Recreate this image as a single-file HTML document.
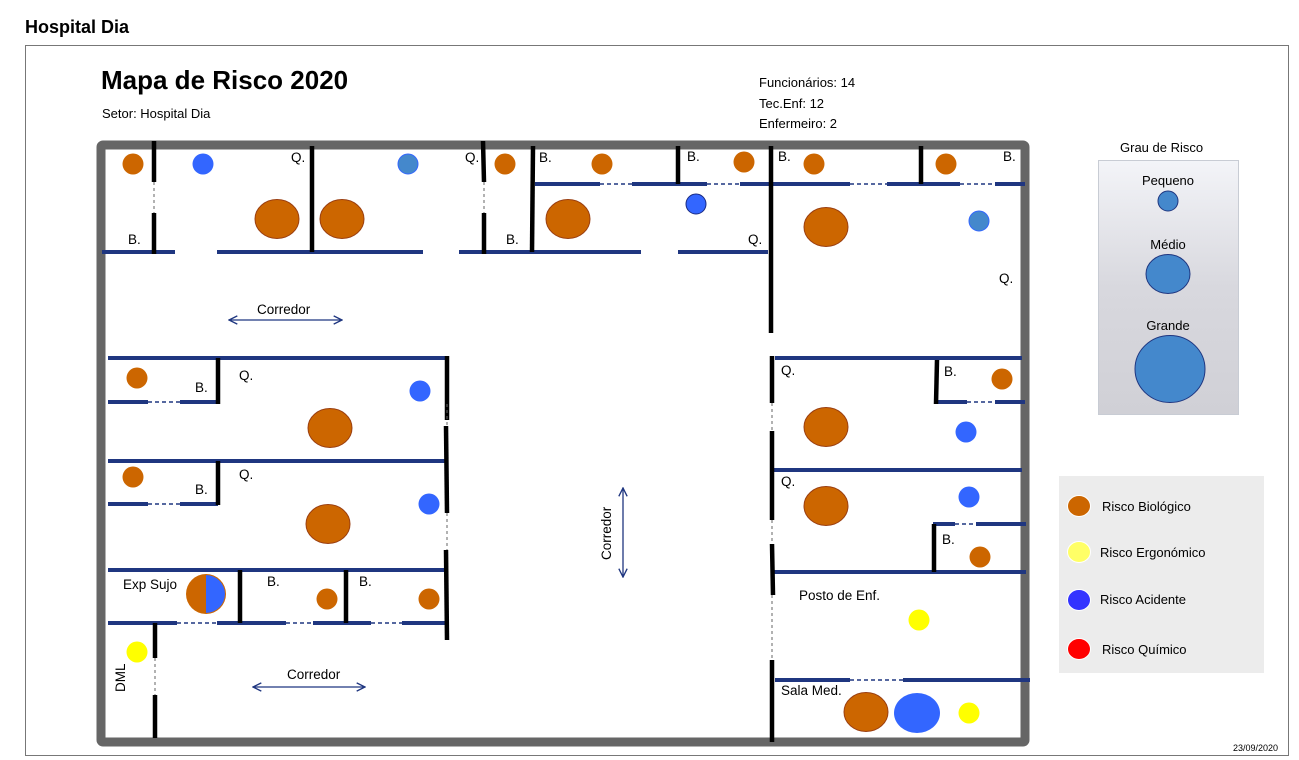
<!DOCTYPE html>
<html><head><meta charset="utf-8"><style>
html,body{margin:0;padding:0;background:#fff;width:1299px;height:760px;overflow:hidden}
svg{display:block;font-family:"Liberation Sans",sans-serif}
</style></head><body>
<svg width="1299" height="760" viewBox="0 0 1299 760">
<defs>
<linearGradient id="g" x1="0" y1="0" x2="0" y2="1"><stop offset="0" stop-color="#f3f4f8"/><stop offset="0.5" stop-color="#d8d8de"/><stop offset="1" stop-color="#d0d0d6"/></linearGradient>
<marker id="ah" viewBox="0 0 10 10" refX="9" refY="5" markerWidth="8" markerHeight="8" orient="auto-start-reverse"><path d="M1,1 L9,5 L1,9" fill="none" stroke="#1f3680" stroke-width="1.3"/></marker>
</defs>
<text x="25" y="33" font-size="18" font-weight="bold">Hospital Dia</text>
<rect x="25.5" y="45.5" width="1263" height="710" fill="none" stroke="#777" stroke-width="1"/>
<text x="101" y="89" font-size="26" font-weight="bold">Mapa de Risco 2020</text>
<text x="102" y="118" font-size="13">Setor: Hospital Dia</text>
<text x="759" y="87" font-size="13">Funcionários: 14</text>
<text x="759" y="108" font-size="13">Tec.Enf: 12</text>
<text x="759" y="128" font-size="13">Enfermeiro: 2</text>

<rect x="101" y="145" width="924" height="597" fill="none" stroke="#666" stroke-width="9" rx="2"/>

<g stroke="#1f3680" stroke-width="4">
<line x1="102" y1="252" x2="175" y2="252"/><line x1="217" y1="252" x2="423" y2="252"/>
<line x1="459" y1="252" x2="641" y2="252"/><line x1="678" y1="252" x2="768" y2="252"/>
<line x1="535" y1="184" x2="600" y2="184"/><line x1="632" y1="184" x2="707" y2="184"/>
<line x1="740" y1="184" x2="850" y2="184"/><line x1="887" y1="184" x2="960" y2="184"/><line x1="995" y1="184" x2="1025" y2="184"/>
<line x1="108" y1="358" x2="446" y2="358"/>
<line x1="108" y1="402" x2="148" y2="402"/><line x1="180" y1="402" x2="218" y2="402"/>
<line x1="108" y1="461" x2="446" y2="461"/>
<line x1="108" y1="504" x2="148" y2="504"/><line x1="180" y1="504" x2="218" y2="504"/>
<line x1="108" y1="570" x2="446" y2="570"/>
<line x1="108" y1="623" x2="177" y2="623"/><line x1="217" y1="623" x2="286" y2="623"/>
<line x1="313" y1="623" x2="371" y2="623"/><line x1="402" y1="623" x2="446" y2="623"/>
<line x1="775" y1="358" x2="1022" y2="358"/>
<line x1="937" y1="402" x2="967" y2="402"/><line x1="995" y1="402" x2="1025" y2="402"/>
<line x1="773" y1="470" x2="1022" y2="470"/>
<line x1="933" y1="524" x2="955" y2="524"/><line x1="976" y1="524" x2="1026" y2="524"/>
<line x1="773" y1="572" x2="1026" y2="572"/>
<line x1="775" y1="680" x2="850" y2="680"/><line x1="903" y1="680" x2="1030" y2="680"/>
</g>
<g stroke="#1f3680" stroke-width="1.5" stroke-dasharray="4,3">
<line x1="600" y1="184" x2="632" y2="184"/><line x1="707" y1="184" x2="740" y2="184"/>
<line x1="850" y1="184" x2="887" y2="184"/><line x1="960" y1="184" x2="995" y2="184"/>
<line x1="148" y1="402" x2="180" y2="402"/><line x1="148" y1="504" x2="180" y2="504"/>
<line x1="177" y1="623" x2="217" y2="623"/><line x1="286" y1="623" x2="313" y2="623"/><line x1="371" y1="623" x2="402" y2="623"/>
<line x1="967" y1="402" x2="995" y2="402"/><line x1="955" y1="524" x2="976" y2="524"/>
<line x1="850" y1="680" x2="903" y2="680"/>
</g>
<g stroke="#000" stroke-width="4.5">
<line x1="154" y1="141" x2="154" y2="182"/><line x1="154" y1="213" x2="154" y2="254"/>
<line x1="312" y1="146" x2="312" y2="252"/>
<line x1="483" y1="141" x2="484" y2="182"/><line x1="484" y1="213" x2="484" y2="254"/>
<line x1="533" y1="146" x2="532" y2="252"/>
<line x1="678" y1="146" x2="678" y2="184"/><line x1="771" y1="146" x2="771" y2="333"/>
<line x1="921" y1="146" x2="921" y2="184"/>
<line x1="447" y1="356" x2="447" y2="420"/><line x1="446" y1="426" x2="447" y2="513"/><line x1="446" y1="550" x2="447" y2="640"/>
<line x1="218" y1="358" x2="218" y2="404"/><line x1="218" y1="461" x2="218" y2="505"/>
<line x1="240" y1="570" x2="240" y2="623"/><line x1="346" y1="570" x2="346" y2="623"/>
<line x1="155" y1="623" x2="155" y2="658"/><line x1="155" y1="695" x2="155" y2="738"/>
<line x1="772" y1="356" x2="772" y2="403"/><line x1="772" y1="431" x2="772" y2="520"/>
<line x1="772" y1="544" x2="773" y2="595"/><line x1="772" y1="660" x2="772" y2="742"/>
<line x1="937" y1="360" x2="936" y2="404"/><line x1="934" y1="524" x2="934" y2="572"/>
</g>
<g stroke="#666" stroke-width="1" stroke-dasharray="3,3">
<line x1="154" y1="182" x2="154" y2="213"/><line x1="484" y1="182" x2="484" y2="213"/>
<line x1="447" y1="404" x2="447" y2="426"/><line x1="447" y1="513" x2="447" y2="550"/>
<line x1="155" y1="658" x2="155" y2="695"/>
<line x1="772" y1="403" x2="772" y2="431"/><line x1="772" y1="520" x2="772" y2="544"/><line x1="772" y1="595" x2="772" y2="660"/>
</g>

<g fill="#cc6600">
<circle cx="133" cy="164" r="10.5"/><circle cx="505" cy="164" r="10.5"/><circle cx="602" cy="164" r="10.5"/>
<circle cx="744" cy="162" r="10.5"/><circle cx="814" cy="164" r="10.5"/><circle cx="946" cy="164" r="10.5"/>
<circle cx="137" cy="378" r="10.5"/><circle cx="133" cy="477" r="10.5"/>
<circle cx="327" cy="599" r="10.5"/><circle cx="429" cy="599" r="10.5"/>
<circle cx="1002" cy="379" r="10.5"/><circle cx="980" cy="557" r="10.5"/>
</g>
<g fill="#cc6600" stroke="#9a3e10" stroke-width="1">
<ellipse cx="277" cy="219" rx="22" ry="19.5"/><ellipse cx="342" cy="219" rx="22" ry="19.5"/>
<ellipse cx="568" cy="219" rx="22" ry="19.5"/><ellipse cx="826" cy="227" rx="22" ry="19.5"/>
<ellipse cx="330" cy="428" rx="22" ry="19.5"/><ellipse cx="328" cy="524" rx="22" ry="19.5"/>
<ellipse cx="826" cy="427" rx="22" ry="19.5"/><ellipse cx="826" cy="506" rx="22" ry="19.5"/>
<ellipse cx="866" cy="712" rx="22" ry="19.5"/>
</g>
<g fill="#3366ff">
<circle cx="203" cy="164" r="10.5"/><circle cx="420" cy="391" r="10.5"/><circle cx="429" cy="504" r="10.5"/>
<circle cx="966" cy="432" r="10.5"/><circle cx="969" cy="497" r="10.5"/>
<ellipse cx="917" cy="713" rx="23" ry="20"/>
</g>
<circle cx="408" cy="164" r="10" fill="#4488cc" stroke="#3366ff" stroke-width="1"/>
<circle cx="979" cy="221" r="10" fill="#4488cc" stroke="#3366ff" stroke-width="1"/>
<circle cx="696" cy="204" r="10" fill="#3366ff" stroke="#1a2a80" stroke-width="1"/>
<g fill="#ffff00"><circle cx="919" cy="620" r="10.5"/><circle cx="137" cy="652" r="10.5"/><circle cx="969" cy="713" r="10.5"/></g>
<circle cx="206" cy="594" r="20" fill="#cc6600"/>
<path d="M206,575 A19,19 0 0 1 206,613 Z" fill="#3366ff"/>

<g font-size="13.5">
<text x="291" y="162">Q.</text><text x="465" y="162">Q.</text>
<text x="539" y="162">B.</text><text x="687" y="161">B.</text><text x="778" y="161">B.</text><text x="1003" y="161">B.</text>
<text x="128" y="244">B.</text><text x="506" y="244">B.</text><text x="748" y="244">Q.</text><text x="999" y="283">Q.</text>
<text x="195" y="392">B.</text><text x="239" y="380">Q.</text>
<text x="195" y="494">B.</text><text x="239" y="479">Q.</text>
<text x="123" y="589">Exp Sujo</text><text x="267" y="586">B.</text><text x="359" y="586">B.</text>
<text x="781" y="375">Q.</text><text x="944" y="376">B.</text><text x="781" y="486">Q.</text><text x="942" y="544">B.</text>
<text x="799" y="600">Posto de Enf.</text><text x="781" y="695">Sala Med.</text>
<text x="257" y="314">Corredor</text><text x="287" y="679">Corredor</text>
<text transform="translate(611,560) rotate(-90)">Corredor</text>
<text transform="translate(125,692) rotate(-90)">DML</text>
</g>
<g stroke="#1f3680" stroke-width="1.3" fill="none">
<line x1="229" y1="320" x2="342" y2="320" marker-start="url(#ah)" marker-end="url(#ah)"/>
<line x1="253" y1="687" x2="365" y2="687" marker-start="url(#ah)" marker-end="url(#ah)"/>
<line x1="623" y1="488" x2="623" y2="577" marker-start="url(#ah)" marker-end="url(#ah)"/>
</g>

<text x="1120" y="152" font-size="13">Grau de Risco</text>
<rect x="1098.5" y="160.5" width="140" height="254" fill="url(#g)" stroke="#c8ccd4" stroke-width="1"/>
<g font-size="13" text-anchor="middle">
<text x="1168" y="185">Pequeno</text><text x="1168" y="249">Médio</text><text x="1168" y="330">Grande</text>
</g>
<g fill="#4488cc" stroke="#1f3680" stroke-width="1">
<circle cx="1168" cy="201" r="10"/><ellipse cx="1168" cy="274" rx="22" ry="19.5"/><ellipse cx="1170" cy="369" rx="35" ry="33.5"/>
</g>
<rect x="1059" y="476" width="205" height="197" fill="#ececec"/>
<g stroke="#fff" stroke-width="1">
<ellipse cx="1079" cy="506" rx="11.5" ry="10.5" fill="#cc6600"/>
<ellipse cx="1079" cy="552" rx="11.5" ry="10.5" fill="#ffff66"/>
<ellipse cx="1079" cy="600" rx="11.5" ry="10.5" fill="#3333ff"/>
<ellipse cx="1079" cy="649" rx="11.5" ry="10.5" fill="#ff0000"/>
</g>
<g font-size="13">
<text x="1102" y="511">Risco Biológico</text><text x="1100" y="557">Risco Ergonómico</text>
<text x="1100" y="604">Risco Acidente</text><text x="1102" y="654">Risco Químico</text>
</g>
<text x="1233" y="751" font-size="9">23/09/2020</text>
</svg>
</body></html>
